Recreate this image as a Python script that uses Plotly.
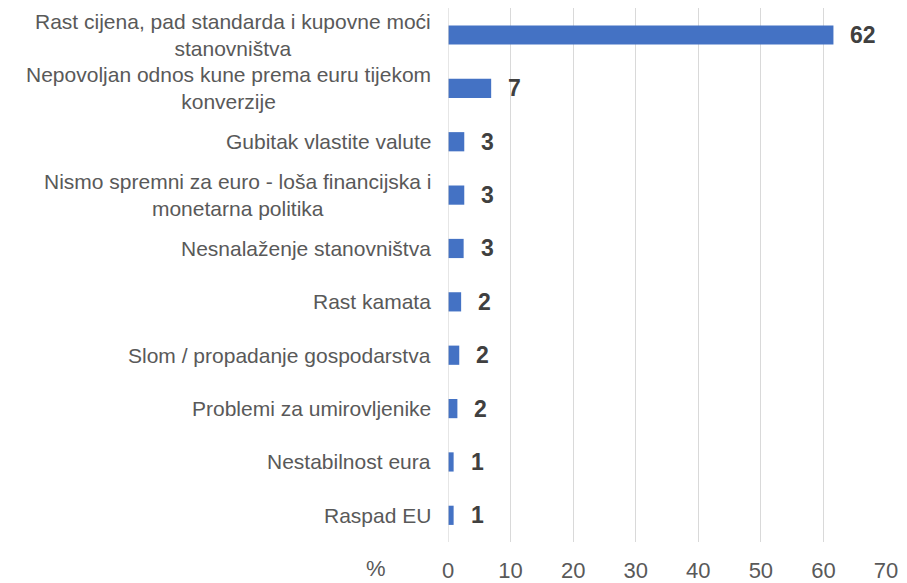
import plotly.graph_objects as go

categories = [
    "Rast cijena, pad standarda i kupovne moći<br>stanovništva",
    "Nepovoljan odnos kune prema euru tijekom<br>konverzije",
    "Gubitak vlastite valute",
    "Nismo spremni za euro - loša financijska i<br>monetarna politika",
    "Nesnalaženje stanovništva",
    "Rast kamata",
    "Slom / propadanje gospodarstva",
    "Problemi za umirovljenike",
    "Nestabilnost eura",
    "Raspad EU",
]
values = [61.6, 6.9, 2.6, 2.6, 2.5, 2.1, 1.8, 1.5, 0.9, 0.9]
labels = ["62", "7", "3", "3", "3", "2", "2", "2", "1", "1"]
x_ticks = [0, 10, 20, 30, 40, 50, 60, 70]
axis_title = "%"

FONT = "Liberation Sans, Arial, sans-serif"

fig = go.Figure()
fig.add_trace(go.Bar(
    y=categories, x=values, orientation="h",
    marker=dict(color="#4472C4", line=dict(width=0)),
    hoverinfo="skip",
))

annotations = []
for c, v, t in zip(categories, values, labels):
    annotations.append(dict(
        x=v, y=c, xref="x", yref="y", text=t, showarrow=False,
        xanchor="left", xshift=15,
        font=dict(family=FONT, size=23, color="#404040", weight="bold"),
    ))
    annotations.append(dict(
        x=0, y=c, xref="paper", yref="y", text=c, showarrow=False,
        xanchor="right", xshift=-15, align="center",
        font=dict(family=FONT, size=21, color="#595959"),
    ))
annotations.append(dict(
    x=0, y=0, xref="paper", yref="paper", text=axis_title, showarrow=False,
    xanchor="center", yanchor="middle", xshift=-72, yshift=-26,
    font=dict(family=FONT, size=22, color="#595959"),
))

# page body has an 8px margin, so the figure is sized/offset to compensate
fig.update_layout(
    width=899, height=575,
    margin=dict(l=440, r=21, t=0, b=30),
    paper_bgcolor="white", plot_bgcolor="white",
    showlegend=False,
    bargap=0.64,
    annotations=annotations,
    xaxis=dict(
        range=[0, 70], tickvals=x_ticks, showgrid=True,
        gridcolor="#d9d9d9", gridwidth=1.3,
        zeroline=False, showline=False,
        ticks="outside", ticklen=9, tickcolor="rgba(0,0,0,0)",
        tickfont=dict(family=FONT, size=22, color="#595959"),
    ),
    yaxis=dict(
        categoryorder="array", categoryarray=categories,
        autorange="reversed", showticklabels=False,
        showgrid=False, zeroline=False, showline=False,
    ),
    shapes=[dict(type="line", xref="x", yref="paper", x0=0, x1=0, y0=0, y1=1,
                 line=dict(color="#d9d9d9", width=1.3))],
)

fig.write_html("out.html")
